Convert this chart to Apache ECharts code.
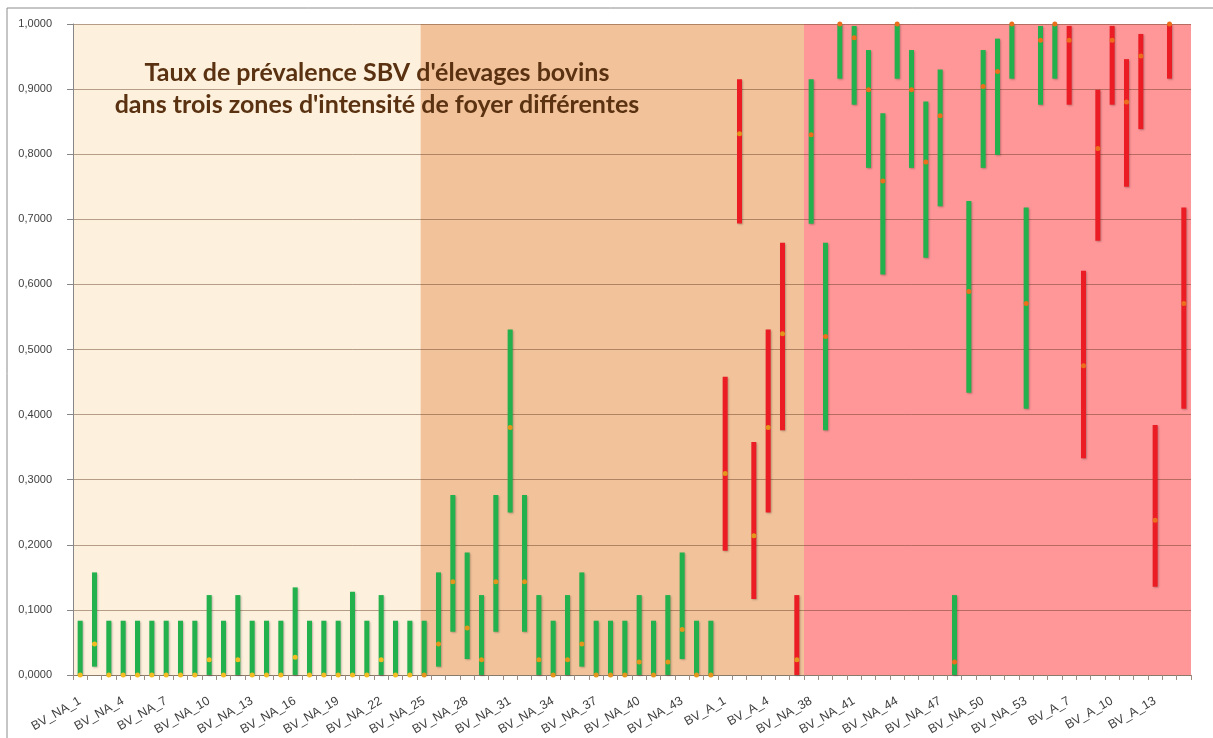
<!DOCTYPE html>
<html lang="fr">
<head>
  <meta charset="UTF-8">
  <title>Taux de prévalence SBV</title>
  <script src="https://cdn.jsdelivr.net/npm/echarts@6/dist/echarts.min.js"></script>
  <style>
    html, body { margin: 0; padding: 0; width: 100%; height: 100%; background: #fff; }
    #chart { width: 1213px; height: 738px; }
  </style>
</head>
<body>
  <div id="chart"></div>
  <script>
    // élevages (ordre de l'axe)
    const categories = [
      'BV_NA_1', 'BV_NA_2', 'BV_NA_3', 'BV_NA_4', 'BV_NA_5', 'BV_NA_6', 'BV_NA_7', 'BV_NA_8', 'BV_NA_9', 'BV_NA_10',
      'BV_NA_11', 'BV_NA_12', 'BV_NA_13', 'BV_NA_14', 'BV_NA_15', 'BV_NA_16', 'BV_NA_17', 'BV_NA_18', 'BV_NA_19', 'BV_NA_20',
      'BV_NA_21', 'BV_NA_22', 'BV_NA_23', 'BV_NA_24', 'BV_NA_25', 'BV_NA_26', 'BV_NA_27', 'BV_NA_28', 'BV_NA_29', 'BV_NA_30',
      'BV_NA_31', 'BV_NA_32', 'BV_NA_33', 'BV_NA_34', 'BV_NA_35', 'BV_NA_36', 'BV_NA_37', 'BV_NA_38', 'BV_NA_39', 'BV_NA_40',
      'BV_NA_41', 'BV_NA_42', 'BV_NA_43', 'BV_NA_44', 'BV_NA_45',
      'BV_A_1', 'BV_A_2', 'BV_A_3', 'BV_A_4', 'BV_A_5', 'BV_A_6',
      'BV_NA_38', 'BV_NA_39', 'BV_NA_40', 'BV_NA_41', 'BV_NA_42', 'BV_NA_43', 'BV_NA_44', 'BV_NA_45', 'BV_NA_46', 'BV_NA_47',
      'BV_NA_48', 'BV_NA_49', 'BV_NA_50', 'BV_NA_51', 'BV_NA_52', 'BV_NA_53', 'BV_NA_54', 'BV_NA_55',
      'BV_A_7', 'BV_A_8', 'BV_A_9', 'BV_A_10', 'BV_A_11', 'BV_A_12', 'BV_A_13', 'BV_A_14', 'BV_A_15'
    ]

    // borne basse de l'intervalle de confiance
    const lower = [
      0, 0.0128, 0, 0, 0, 0, 0, 0, 0, 0,
      0, 0, 0, 0, 0, 0, 0, 0, 0, 0,
      0, 0, 0, 0, 0, 0.0128, 0.0665, 0.0245, 0, 0.0665,
      0.2495, 0.0665, 0, 0, 0, 0.0128, 0, 0, 0, 0,
      0, 0, 0.0245, 0, 0,
      0.1907, 0.6935, 0.1166, 0.2495, 0.376, 0,
      0.693, 0.376, 0.916, 0.876, 0.779, 0.615, 0.916, 0.779, 0.641, 0.720,
      0, 0.4335, 0.779, 0.799, 0.916, 0.409, 0.876, 0.916,
      0.876, 0.333, 0.667, 0.876, 0.750, 0.8385, 0.1355, 0.916, 0.409
    ]

    // borne haute
    const upper = [
      0.0833, 0.1575, 0.0833, 0.0833, 0.0833, 0.0833, 0.0833, 0.0833, 0.0833, 0.1227,
      0.0833, 0.1227, 0.0833, 0.0833, 0.0833, 0.1345, 0.0833, 0.0833, 0.0833, 0.1278,
      0.0833, 0.1227, 0.0833, 0.0833, 0.0833, 0.1575, 0.2766, 0.1881, 0.1227, 0.2766,
      0.5307, 0.2766, 0.1227, 0.0833, 0.1227, 0.1575, 0.0833, 0.0833, 0.0833, 0.1227,
      0.0833, 0.1227, 0.1881, 0.0833, 0.0833,
      0.458, 0.915, 0.358, 0.5307, 0.664, 0.1227,
      0.915, 0.664, 1, 0.997, 0.960, 0.863, 1, 0.960, 0.881, 0.930,
      0.1227, 0.728, 0.960, 0.9775, 1, 0.718, 0.997, 1,
      0.997, 0.621, 0.899, 0.997, 0.946, 0.9847, 0.384, 1, 0.718
    ]

    // taux de prévalence estimé
    const estimate = [
      0, 0.0475, 0, 0, 0, 0, 0, 0, 0, 0.0235,
      0, 0.0235, 0, 0, 0, 0.0271, 0, 0, 0, 0,
      0, 0.0235, 0, 0, 0, 0.0475, 0.1432, 0.072, 0.0235, 0.1432,
      0.380, 0.1432, 0.0235, 0, 0.0235, 0.0475, 0, 0, 0, 0.020,
      0, 0.020, 0.070, 0, 0,
      0.3093, 0.8313, 0.2137, 0.380, 0.524, 0.0235,
      0.830, 0.520, 1, 0.979, 0.899, 0.759, 1, 0.899, 0.788, 0.859,
      0.020, 0.589, 0.904, 0.927, 1, 0.5706, 0.975, 1,
      0.975, 0.475, 0.8088, 0.975, 0.880, 0.951, 0.2377, 1, 0.5706
    ]

    // limites des trois zones d'intensité (en nombre d'élevages depuis la gauche)
    const zoneBounds = [0, 24.25, 51, 78]

    const zoneFill = ['#FDF1DD', '#F2C39B', '#FF9698']
    const dotColor = ['#F2BC22', '#E3951C', '#EC6E1C']

    function zoneOf (i) {
      for (let z = 0; z < zoneBounds.length - 1; z++) {
        if (i + 0.5 < zoneBounds[z + 1]) return z
      }
      return zoneBounds.length - 2
    }

    const zones = []
    for (let z = 0; z < zoneBounds.length - 1; z++) zones.push([zoneBounds[z], zoneBounds[z + 1], z])

    const chart = echarts.init(document.getElementById('chart'), null, { renderer: 'canvas' })

    chart.setOption({
      animation: false,
      backgroundColor: '#fff',
      grid: { left: 73, right: 22, top: 24, bottom: 62, containLabel: false },
      graphic: [
        {
          type: 'rect',
          shape: { x: 7, y: 8, width: 1230, height: 760 },
          style: { fill: 'none', stroke: '#8c8c8c', lineWidth: 1 },
          silent: true,
          z: 10
        },
        {
          type: 'text',
          x: 377,
          y: 89,
          style: {
            text: "Taux de prévalence SBV d'élevages bovins\ndans trois zones d'intensité de foyer différentes",
            fill: '#5A3211',
            font: 'bold 25px Lato',
            textAlign: 'center',
            textVerticalAlign: 'middle',
            lineHeight: 32
          },
          silent: true,
          z: 10
        }
      ],
      xAxis: [
        {
          type: 'category',
          data: categories,
          boundaryGap: true,
          z: 1,
          axisLine: { lineStyle: { color: '#8a7a6a', width: 1 } },
          axisTick: { show: true, interval: 0, length: 5, lineStyle: { color: '#9a8a80' } },
          axisLabel: {
            interval: 2,
            rotate: 30,
            margin: 25,
            color: '#404040',
            fontSize: 12.5,
            fontFamily: 'Liberation Sans'
          },
          splitLine: { show: false }
        },
        {
          type: 'value',
          min: 0,
          max: categories.length,
          show: false
        }
      ],
      yAxis: {
        type: 'value',
        min: 0,
        max: 1,
        interval: 0.1,
        z: 1,
        axisLine: { show: true, lineStyle: { color: '#868686' } },
        axisTick: { show: true, length: 6, lineStyle: { color: '#868686' } },
        axisLabel: {
          margin: 21,
          color: '#404040',
          fontSize: 11,
          fontFamily: 'Liberation Sans',
          formatter: v => v.toFixed(4).replace('.', ',')
        },
        splitLine: { show: true, lineStyle: { color: 'rgba(95,55,30,0.45)', width: 1 } }
      },
      series: [
        {
          // fonds des trois zones
          type: 'custom',
          xAxisIndex: 1,
          z: 0,
          silent: true,
          data: zones,
          renderItem: function (params, api) {
            const p0 = api.coord([api.value(0), 1])
            const p1 = api.coord([api.value(1), 0])
            return {
              type: 'rect',
              shape: { x: p0[0], y: p0[1], width: p1[0] - p0[0], height: p1[1] - p0[1] },
              style: { fill: zoneFill[api.value(2)] }
            }
          }
        },
        {
          // intervalles de confiance
          type: 'custom',
          xAxisIndex: 0,
          z: 3,
          silent: true,
          data: categories.map((c, i) => [i, lower[i], upper[i]]),
          renderItem: function (params, api) {
            const i = api.value(0)
            const top = api.coord([i, api.value(2)])
            const bottom = api.coord([i, api.value(1)])
            const w = 5
            const isA = categories[i].indexOf('BV_A_') === 0
            return {
              type: 'rect',
              shape: { x: top[0] - w / 2, y: top[1], width: w, height: bottom[1] - top[1] },
              style: {
                fill: isA ? '#EC1C24' : '#22B14C',
                shadowBlur: 2,
                shadowOffsetX: 1,
                shadowOffsetY: 1,
                shadowColor: 'rgba(0,0,0,0.25)'
              }
            }
          }
        },
        {
          // estimation
          type: 'scatter',
          xAxisIndex: 0,
          z: 4,
          silent: true,
          symbol: 'circle',
          symbolSize: 5,
          data: estimate.map((v, i) => ({
            value: [i, v],
            itemStyle: { color: dotColor[zoneOf(i)] }
          })),
          itemStyle: { opacity: 1 }
        }
      ]
    })

    window.addEventListener('resize', () => chart.resize())
  </script>
</body>
</html>
